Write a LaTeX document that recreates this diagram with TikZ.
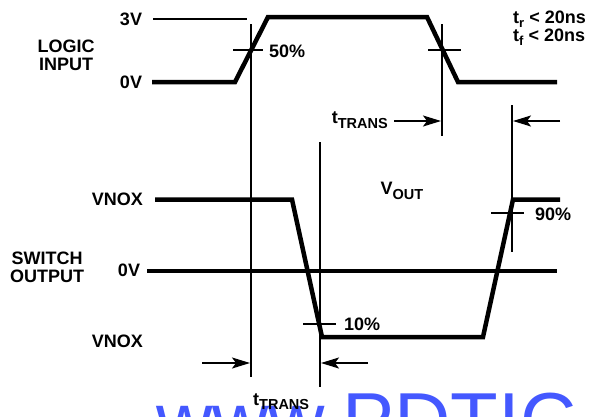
\documentclass[tikz,border=0pt]{standalone}
\usepackage{fontspec}
\setmainfont{Liberation Sans}
\usetikzlibrary{arrows.meta}
\definecolor{wmblue}{HTML}{4458FF}
\newcommand{\sbx}[1]{\raisebox{-4.5pt}{\fontsize{14.5}{14.5}\selectfont #1}}
\begin{document}
\begin{tikzpicture}[x=1pt,y=-1pt,
  lbl/.style={font=\fontsize{18}{18}\selectfont\bfseries, inner sep=0pt},
  wave/.style={line width=4.5pt, line join=miter},
  thinln/.style={line width=1.8pt},
  arr/.style={thinln,-{Stealth[length=18pt,width=11pt,inset=4pt]}}]
\useasboundingbox (0,0) rectangle (597,416);
\clip (0,0) rectangle (597,416);

% watermark
\node[font=\fontsize{78}{78}\selectfont, text=wmblue, inner sep=0pt, anchor=base west] (wm) at (156,447) {www.PDTIC};

% logic input
\node[lbl, align=center] (logic) at (66,55) {LOGIC\\INPUT};
\node[lbl] (v3) at (131,19) {3V};
\node[lbl] (v0a) at (131,82) {0V};
\coordinate (r3a) at (153,19); \coordinate (r3b) at (247,19);
\draw[thinln] (r3a) -- (r3b);
\coordinate (i0) at (152,82); \coordinate (i1) at (235,82); \coordinate (i2) at (268,17);
\coordinate (i3) at (427,17); \coordinate (i4) at (458,82); \coordinate (i5) at (557,82);
\draw[wave] (i0) -- (i1) -- (i2) -- (i3) -- (i4) -- (i5);

% 50% markers
\coordinate (m1t) at (250.7,24); \coordinate (m1b) at (250.7,377);
\draw[thinln] (m1t) -- (m1b);
\coordinate (h1a) at (233,50); \coordinate (h1b) at (263,50);
\draw[thinln] (h1a) -- (h1b);
\node[lbl, anchor=west] (p50) at (269,51) {50\%};
\coordinate (m2t) at (442,24); \coordinate (m2b) at (442,136);
\draw[thinln] (m2t) -- (m2b);
\coordinate (h2a) at (428,50); \coordinate (h2b) at (461,50);
\draw[thinln] (h2a) -- (h2b);

% tr tf
\node[lbl, anchor=west] (tr) at (513,19) {t\raisebox{-3.5pt}{\fontsize{13}{13}\selectfont r} < 20ns};
\node[lbl, anchor=west] (tf) at (513,37) {t\raisebox{-3.5pt}{\fontsize{13}{13}\selectfont f} < 20ns};

% top tTRANS
\node[lbl, anchor=east] (tt1) at (388,120) {t\sbx{TRANS}};
\coordinate (a1s) at (394,121); \coordinate (a1e) at (441,121);
\draw[arr] (a1s) -- (a1e);
\coordinate (m3t) at (512,105); \coordinate (m3b) at (512,252);
\draw[thinln] (m3t) -- (m3b);
\coordinate (a2s) at (560,121); \coordinate (a2e) at (513,121);
\draw[arr] (a2s) -- (a2e);

% switch output
\node[lbl, anchor=east] (vnox1) at (143,199) {VNOX};
\node[lbl] (v0b) at (129,270) {0V};
\node[lbl, align=center] (sw) at (47,267) {SWITCH\\OUTPUT};
\node[lbl, anchor=east] (vnox2) at (143,341) {VNOX};
\coordinate (o0) at (155,199.5); \coordinate (o1) at (292,199.5); \coordinate (o2) at (322,337);
\coordinate (o3) at (483,337); \coordinate (o4) at (513,199.5); \coordinate (o5) at (560,199.5);
\draw[wave] (o0) -- (o1) -- (o2) -- (o3) -- (o4) -- (o5);
\coordinate (z0) at (147,271); \coordinate (z1) at (557,271);
\draw[wave] (z0) -- (z1);

\coordinate (m4t) at (320,142); \coordinate (m4b) at (320,387);
\draw[thinln] (m4t) -- (m4b);
\coordinate (h3a) at (303,324); \coordinate (h3b) at (336,324);
\draw[thinln] (h3a) -- (h3b);
\node[lbl, anchor=west] (p10) at (344,324) {10\%};
\coordinate (h4a) at (491,213); \coordinate (h4b) at (524,213);
\draw[thinln] (h4a) -- (h4b);
\node[lbl, anchor=west] (p90) at (535,214) {90\%};
\node[lbl] (vout) at (402,191) {V\sbx{OUT}};

% bottom tTRANS
\coordinate (b1s) at (202,363); \coordinate (b1e) at (250,363);
\draw[arr] (b1s) -- (b1e);
\coordinate (b2s) at (368,363); \coordinate (b2e) at (321,363);
\draw[arr] (b2s) -- (b2e);
\node[lbl, anchor=base west] (tt2) at (253,405) {t\sbx{TRANS}};
\end{tikzpicture}
\end{document}
